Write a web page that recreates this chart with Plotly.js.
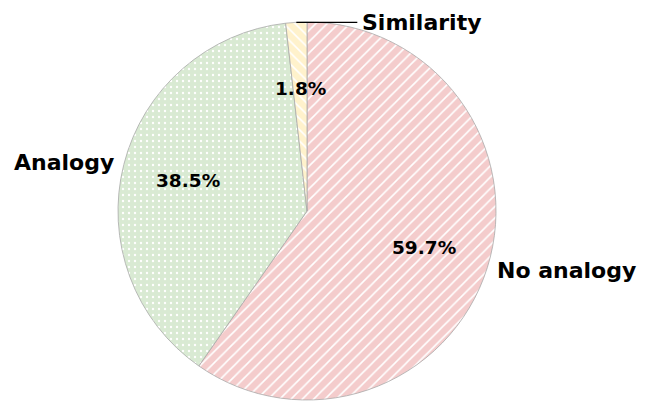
<!DOCTYPE html>
<html>
<head>
<meta charset="utf-8">
<script src="https://cdn.plot.ly/plotly-3.0.1.min.js"></script>
<style>html,body{margin:0;padding:0;background:#fff;}#chart{width:661px;height:405px;}</style>
</head>
<body>
<div id="chart"></div>
<script>
const labels = ['No analogy', 'Analogy', 'Similarity'];
const values = [59.7, 38.5, 1.8];
const colors = ['#f4cccc', '#d9ead3', '#fff2cc'];
const hatches = ['/', '.', '\\'];

const total = values.reduce((a, b) => a + b, 0);
const annotations = [];
let cum = 0;
const font = "DejaVu Sans, Verdana, sans-serif";
values.forEach((v, i) => {
  const mid = (90 - (cum + v / 2) / total * 360) * Math.PI / 180;
  cum += v;
  const c = Math.cos(mid), s = Math.sin(mid);
  // percentage inside
  annotations.push({
    xref: 'paper', yref: 'paper',
    x: 0.5 + 0.65 * c / 2, y: 0.5 + 0.65 * s / 2,
    text: '<b>' + (v / total * 100).toFixed(1) + '%</b>',
    showarrow: false, xanchor: 'center', yanchor: 'middle',
    font: {family: font, size: 18.5, color: '#000'}
  });
  // category label
  if (v / total < 0.05) {
    annotations.push({
      xref: 'paper', yref: 'paper',
      x: 0.5 + c / 2, y: 0.5 + s / 2,
      ax: 61, ay: 0, axref: 'pixel', ayref: 'pixel',
      text: '<b>' + labels[i] + '</b>',
      showarrow: true, arrowhead: 0, arrowwidth: 1.2, arrowcolor: '#000',
      xanchor: 'left', yanchor: 'middle', standoff: 0, borderpad: 4,
      font: {family: font, size: 22, color: '#000'}
    });
  } else {
    annotations.push({
      xref: 'paper', yref: 'paper',
      x: 0.5 + 1.045 * c / 2, y: 0.5 + 1.045 * s / 2,
      text: '<b>' + labels[i] + '</b>',
      showarrow: false, xanchor: c >= 0 ? 'left' : 'right', yanchor: 'middle',
      font: {family: font, size: 22, color: '#000'}
    });
  }
});

const trace = {
  type: 'pie',
  labels: labels,
  values: values,
  sort: false,
  direction: 'clockwise',
  rotation: 0,
  textinfo: 'none',
  hoverinfo: 'label+percent',
  showlegend: false,
  marker: {
    colors: colors,
    line: {color: '#aaaaaa', width: 0.8},
    pattern: {
      shape: hatches,
      fgcolor: '#ffffff',
      bgcolor: colors,
      size: [8, 6, 8],
      solidity: [0.2, 0.12, 0.2],
      fillmode: 'replace'
    }
  }
};

const layout = {
  width: 661, height: 405, autosize: false,
  margin: {l: 118, r: 165, t: 22, b: 5, pad: 0},
  paper_bgcolor: '#ffffff', plot_bgcolor: '#ffffff',
  font: {family: font},
  annotations: annotations
};

Plotly.newPlot('chart', [trace], layout, {displayModeBar: false, staticPlot: true});
</script>
</body>
</html>
